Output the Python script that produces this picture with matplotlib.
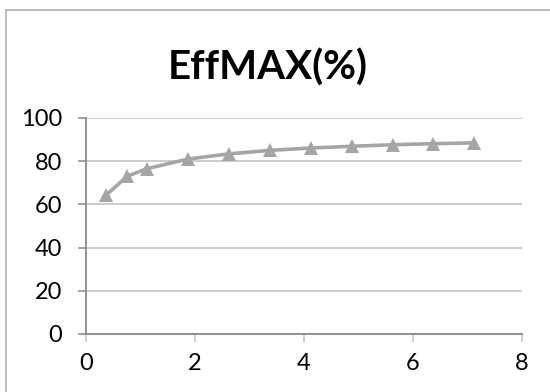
import matplotlib.pyplot as plt
from matplotlib.patches import Rectangle

# data
x_vals = [0.38, 0.76, 1.12, 1.88, 2.63, 3.38, 4.13, 4.88, 5.63, 6.38, 7.12]
eff_max = [64.4, 73.0, 76.5, 81.0, 83.4, 85.0, 86.1, 86.9, 87.6, 88.1, 88.5]
x_ticks = [0, 2, 4, 6, 8]
y_ticks = [0, 20, 40, 60, 80, 100]
title = "EffMAX(%)"

fig = plt.figure(figsize=(5.5, 3.92), dpi=100)
ax = fig.add_axes([0.1558, 0.148, 0.7927, 0.551])

ax.plot(x_vals, eff_max, color="#A5A5A5", linewidth=2.6, marker="^",
        markersize=10, markeredgewidth=0, solid_joinstyle="round", zorder=3)

ax.set_xlim(0, 8)
ax.set_ylim(0, 100)
ax.set_xticks(x_ticks)
ax.set_yticks(y_ticks)
ax.grid(axis="y", color="#BEBEBE", linewidth=1.1)
ax.set_axisbelow(True)

for s in ["top", "right"]:
    ax.spines[s].set_visible(False)
ax.spines["left"].set_color("#888888")
ax.spines["bottom"].set_color("#888888")
ax.spines["left"].set_linewidth(1.3)
ax.spines["bottom"].set_linewidth(1.3)

ax.tick_params(axis="y", length=6, width=1.1, color="#888888", pad=11,
               labelsize=17)
ax.tick_params(axis="x", length=6, width=1.1, color="#BEBEBE", pad=8,
               labelsize=17)
for lab in ax.get_xticklabels() + ax.get_yticklabels():
    lab.set_fontfamily("Lato")

fig.text(0.486, 0.796, title, ha="center", va="baseline",
         fontsize=29, fontweight="bold", fontfamily="Lato")

# outer chart border (cut off at right and bottom)
fig.add_artist(Rectangle((6 / 550, -0.1), 1.2, 1.1 - 10 / 392,
                         transform=fig.transFigure, fill=False,
                         edgecolor="#B4B4B4", linewidth=1.3))

fig.savefig("out.png", dpi=100)
